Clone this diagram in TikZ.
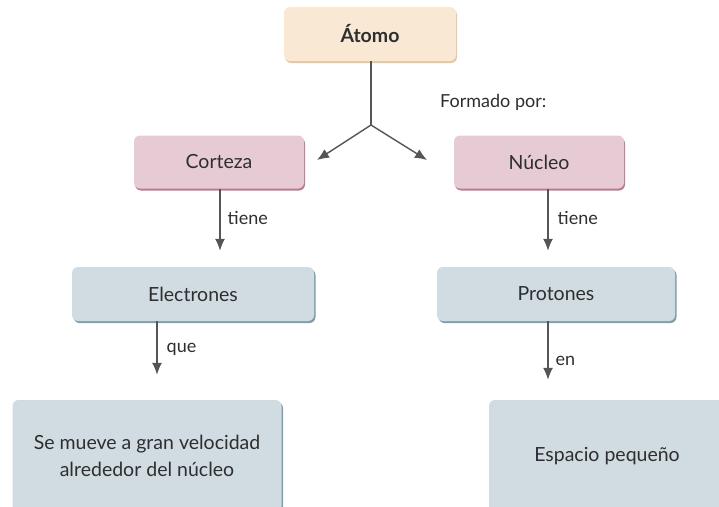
\documentclass[tikz,border=0pt]{standalone}
\usepackage{fontspec}
\setmainfont{Lato}
\usetikzlibrary{arrows.meta,positioning,shadows}
\definecolor{atomfill}{HTML}{F9E9D4}
\definecolor{atomedge}{HTML}{E9C69B}
\definecolor{pinkfill}{HTML}{E6CBD5}
\definecolor{pinkedge}{HTML}{C07796}
\definecolor{bluefill}{HTML}{D0DBE2}
\definecolor{blueedge}{HTML}{7E9FAD}
\definecolor{arrgray}{HTML}{555555}
\definecolor{txt}{HTML}{2E2E2E}

\begin{document}
\begin{tikzpicture}[
  x=1pt, y=1pt,
  font=\fontsize{19.5}{27}\selectfont, text=txt,
  box/.style={rounded corners=6pt, align=center, inner sep=4pt},
  atombox/.style={box, fill=atomfill, minimum width=172pt, minimum height=54pt,
    drop shadow={shadow xshift=1pt, shadow yshift=-2pt, fill=atomedge, opacity=1}},
  pinkbox/.style={box, fill=pinkfill, minimum width=170pt, minimum height=53pt,
    drop shadow={shadow xshift=1pt, shadow yshift=-2pt, fill=pinkedge, opacity=1}},
  bluebox/.style={box, fill=bluefill, minimum height=54pt,
    drop shadow={shadow xshift=1.5pt, shadow yshift=-2pt, fill=blueedge, opacity=1}},
  lbl/.style={anchor=west, inner sep=2pt, font=\fontsize{18}{22}\selectfont},
  arr/.style={-{Latex[length=12pt,width=10pt]}, line width=1.4pt, draw=arrgray}
]
\useasboundingbox (0,0) rectangle (719,-506);
\clip (0,0) rectangle (719,-506);

\node[atombox] (atomo) at (370,-34) {\textbf{Átomo}};
\node[pinkbox] (corteza) at (219,-162) {Corteza};
\node[pinkbox] (nucleo) at (539,-162) {Núcleo};
\node[bluebox, minimum width=242pt] (electrones) at (193,-294) {Electrones};
\node[bluebox, minimum width=238pt] (protones) at (556,-294) {Protones};
\node[bluebox, minimum width=269pt, minimum height=112pt] (semueve) at (147,-456)
  {Se mueve a gran velocidad\\alrededor del núcleo};
\node[bluebox, minimum width=236pt, minimum height=112pt] (espacio) at (607,-456) {Espacio pequeño};

\coordinate (split) at (371,-125);
\coordinate (tipl) at (317,-160);
\coordinate (tipr) at (427,-160);

\draw[line width=1.4pt, draw=arrgray] (atomo.south -| split) -- (split);
\draw[arr] (split) -- (tipl);
\draw[arr] (split) -- (tipr);
\node[lbl] (formado) at (438,-102) {Formado por:};

\draw[arr, shorten >=16pt] ([xshift=1pt]corteza.south) -- ([xshift=1pt]corteza.south |- electrones.north)
  node[lbl, pos=0.37, right=5pt] {tiene};
\draw[arr, shorten >=16pt] ([xshift=9pt]nucleo.south) -- ([xshift=9pt]nucleo.south |- protones.north)
  node[lbl, pos=0.37, right=7pt] {tiene};
\draw[arr, shorten >=25pt] ([xshift=-36pt]electrones.south) -- ([xshift=-36pt]electrones.south |- semueve.north)
  node[lbl, pos=0.36, right=7pt] {que};
\draw[arr, shorten >=20pt] ([xshift=-8pt]protones.south) -- ([xshift=-8pt]protones.south |- espacio.north)
  node[lbl, pos=0.5, right=5pt] {en};
\end{tikzpicture}
\end{document}
